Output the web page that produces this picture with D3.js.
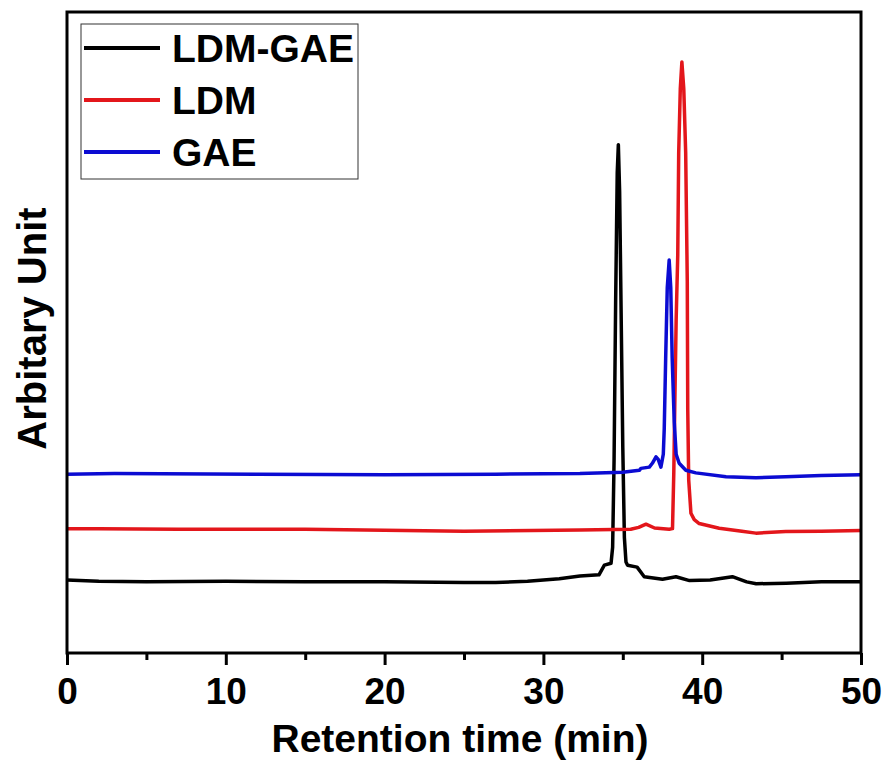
<!DOCTYPE html>
<html>
<head>
<meta charset="utf-8">
<script src="https://cdn.jsdelivr.net/npm/d3@7"></script>
<style>
  html, body { margin: 0; padding: 0; background: #fff; }
  svg { display: block; }
  text { font-family: "Liberation Sans", Arial, sans-serif; font-weight: bold; fill: #000; }
</style>
</head>
<body>
<svg id="chart" width="884" height="761"></svg>
<script>
// Chromatogram traces: [retention time (min), detector signal (arbitrary units, stacked offset included)]
const ldmGae = [
  [0, 11.4], [2, 11.2], [5, 11.1], [10, 11.2], [15, 11.1], [20, 11.1], [25, 11.0],
  [27, 11.0], [29, 11.2], [31, 11.6], [32.3, 12.0], [33.5, 12.2], [33.84, 13.7],
  [34.26, 14.0], [34.36, 16.5], [34.45, 30], [34.55, 55], [34.65, 75], [34.72, 79.3],
  [34.8, 72], [34.9, 52], [35.0, 32], [35.1, 18], [35.2, 14.2], [35.3, 13.7],
  [35.9, 13.4], [36.35, 11.9], [37.5, 11.5], [38.35, 11.9], [39.2, 11.3], [40.5, 11.4],
  [41.9, 11.9], [42.8, 11.1], [43.4, 10.8], [45.3, 10.9], [47.5, 11.1], [50, 11.1]
];
const ldm = [
  [0, 19.4], [2, 19.4], [7, 19.3], [15, 19.3], [25, 19.0], [32.3, 19.2], [35.5, 19.3],
  [36.0, 19.6], [36.46, 20.1], [37.0, 19.5], [37.92, 19.3], [38.13, 19.4], [38.21, 28],
  [38.27, 38], [38.36, 52], [38.46, 62], [38.52, 78], [38.62, 88], [38.72, 92.2],
  [38.84, 88], [38.96, 78], [39.06, 58], [39.09, 38], [39.15, 27], [39.29, 21.8],
  [39.5, 20.8], [39.81, 20.2], [41.07, 19.45], [42.5, 19.0], [43.38, 18.7],
  [45.26, 18.95], [47.5, 19.0], [50, 19.1]
];
const gae = [
  [0, 27.9], [3, 28.0], [12, 27.9], [20, 27.8], [27, 27.9], [32.3, 28.0], [35.0, 28.2],
  [36.04, 28.5], [36.14, 28.8], [36.67, 29.0], [36.86, 29.6], [37.09, 30.6], [37.23, 30.2],
  [37.40, 29.0], [37.55, 31], [37.61, 35], [37.70, 46], [37.80, 57], [37.92, 61.3],
  [38.02, 57], [38.11, 46], [38.24, 36], [38.36, 31], [38.55, 29.6], [38.97, 28.5],
  [39.6, 28.1], [41.5, 27.5], [43.38, 27.35], [45.26, 27.5], [47.5, 27.7], [50, 27.8]
];

const seriesNames = ["LDM-GAE", "LDM", "GAE"];
const xMajorTicks = [0, 10, 20, 30, 40, 50];
const xMinorTicks = [5, 15, 25, 35, 45];
const xTitle = "Retention time (min)";
const yTitle = "Arbitary Unit";

const colors = ["#000000", "#e3161b", "#0b0bd2"];
const traces = [ldmGae, ldm, gae];

const svg = d3.select("#chart");
const plot = { left: 67, right: 861, top: 12, bottom: 653 };

const x = d3.scaleLinear().domain([0, 50]).range([plot.left, plot.right]);
const y = d3.scaleLinear().domain([0, 100]).range([plot.bottom, plot.top]);

// Traces
const line = d3.line().x(d => x(d[0])).y(d => y(d[1]));
svg.append("g")
  .selectAll("path")
  .data(traces)
  .join("path")
  .attr("d", line)
  .attr("fill", "none")
  .attr("stroke", (d, i) => colors[i])
  .attr("stroke-width", 3.5)
  .attr("stroke-linejoin", "round");

// Frame
svg.append("rect")
  .attr("x", plot.left).attr("y", plot.top)
  .attr("width", plot.right - plot.left).attr("height", plot.bottom - plot.top)
  .attr("fill", "none").attr("stroke", "#000").attr("stroke-width", 3);

// Bottom axis: major ticks with labels, minor ticks without
const xAxis = d3.axisBottom(x).tickValues(xMajorTicks).tickSize(12).tickSizeOuter(0).tickPadding(13);
const gx = svg.append("g").attr("transform", `translate(0,${plot.bottom})`).call(xAxis);
gx.select(".domain").remove();
gx.selectAll(".tick line").attr("stroke", "#000").attr("stroke-width", 3);
gx.selectAll(".tick text").attr("font-size", 37).attr("font-family", null);

const xMinor = d3.axisBottom(x).tickValues(xMinorTicks).tickSize(7).tickSizeOuter(0).tickFormat("");
const gxm = svg.append("g").attr("transform", `translate(0,${plot.bottom})`).call(xMinor);
gxm.select(".domain").remove();
gxm.selectAll(".tick line").attr("stroke", "#000").attr("stroke-width", 3);

// Axis titles
svg.append("text")
  .attr("x", 460)
  .attr("y", 752)
  .attr("text-anchor", "middle")
  .attr("font-size", 39)
  .text(xTitle);

svg.append("text")
  .attr("transform", `translate(46,${(plot.top + plot.bottom) / 2 - 4}) rotate(-90)`)
  .attr("text-anchor", "middle")
  .attr("font-size", 40)
  .text(yTitle);

// Legend
const legend = svg.append("g");
legend.append("rect")
  .attr("x", 81).attr("y", 24).attr("width", 277).attr("height", 155)
  .attr("fill", "#fff").attr("stroke", "#333").attr("stroke-width", 1);

const items = legend.selectAll("g.item")
  .data(seriesNames)
  .join("g")
  .attr("class", "item")
  .attr("transform", (d, i) => `translate(0,${48 + i * 52})`);
items.append("line")
  .attr("x1", 84).attr("x2", 160)
  .attr("stroke", (d, i) => colors[i]).attr("stroke-width", 4);
items.append("text")
  .attr("x", 172).attr("dy", "0.36em")
  .attr("font-size", 39)
  .text(d => d);
</script>
</body>
</html>
